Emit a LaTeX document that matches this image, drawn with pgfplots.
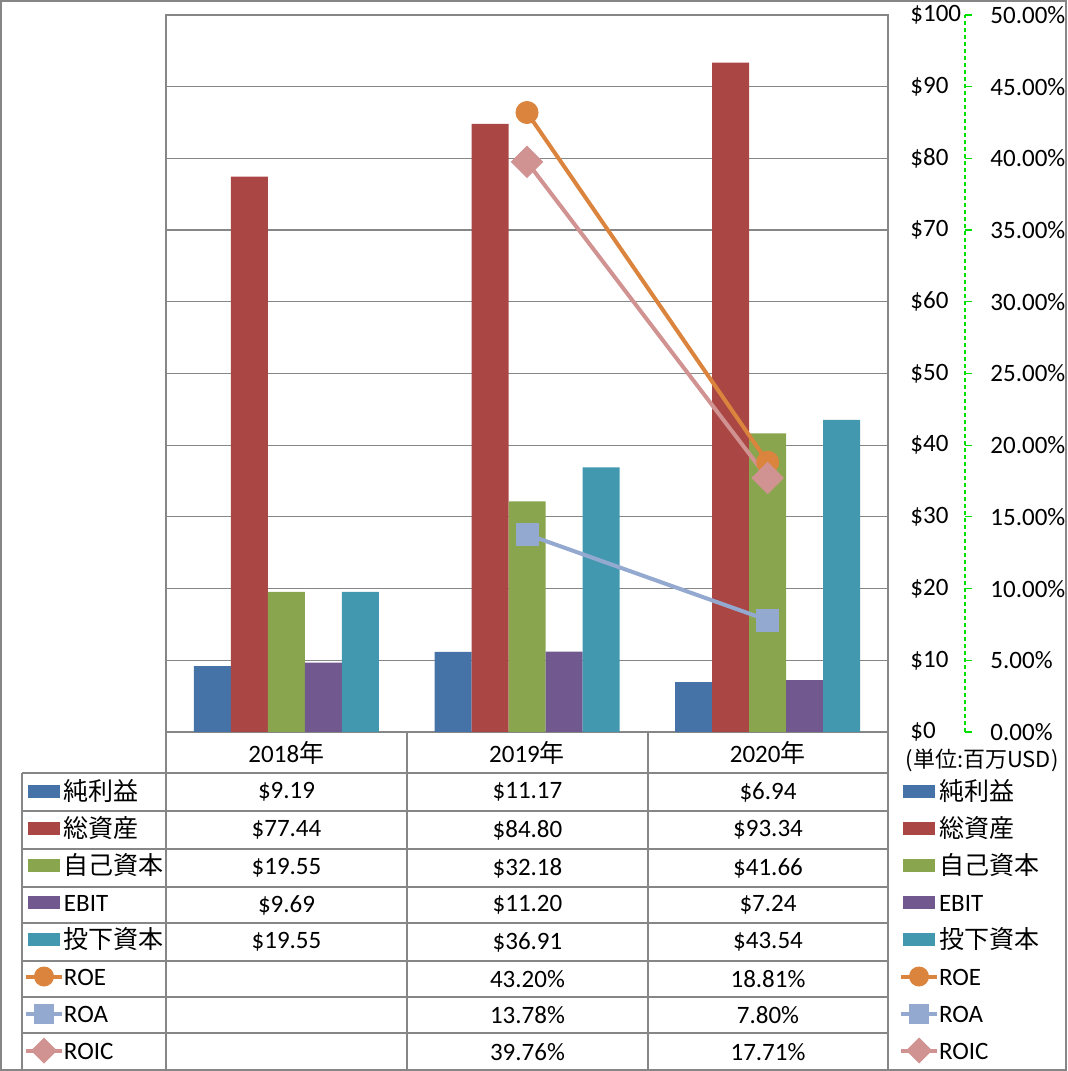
\documentclass[border=0pt]{standalone}
\usepackage{pgfplots}
\pgfplotsset{compat=1.18}
\usepackage{fontspec}
\setmainfont{Carlito}
\newfontfamily\cjk{Noto Sans CJK JP}
\newfontfamily\cjkp[CharacterWidth=Proportional]{Noto Sans CJK JP}
\definecolor{c1}{HTML}{4572A7}
\definecolor{c2}{HTML}{AA4643}
\definecolor{c3}{HTML}{89A54E}
\definecolor{c4}{HTML}{71588F}
\definecolor{c5}{HTML}{4198AF}
\definecolor{roe}{HTML}{DB843D}
\definecolor{roa}{HTML}{93A9CF}
\definecolor{roic}{HTML}{D19392}
\definecolor{gridg}{HTML}{868686}
\definecolor{lgreen}{HTML}{00E000}
\newcommand\f{\fontsize{12.5}{15}\selectfont}
\pgfplotsset{
  barkey/.style={legend image code/.code={\fill[draw=none, fill=#1] (1pt,-3.25pt) rectangle (17pt,3.25pt);}},
  linekey/.style 2 args={legend image code/.code={\draw[#1, line width=2pt] (0pt,0pt) -- (18pt,0pt);
      \path[draw=none, fill=#1] (9pt,0pt) #2;}},
  legaxis/.style={hide axis, scale only axis, width=1pt, height=1pt, anchor=center,
    xmin=0,xmax=1,ymin=0,ymax=1,
    legend cell align=left,
    legend style={at={(0.5,0.5)}, anchor=north west, draw=none, fill=none, inner sep=0pt,
      outer sep=0pt, row sep=0pt, font=\f,
      nodes={inner sep=0pt, minimum height=18.5pt, text height=9.6pt, text depth=1pt},
      /tikz/column 2/.style={column sep=1.5pt}}},
}
\begin{document}
\begin{tikzpicture}[x=0.5pt,y=0.5pt]
\draw[gridg, line width=0.75pt] (1,1) rectangle (1066,1070);
% table grid
\begin{scope}[gridg, line width=0.6pt]
\foreach \y in {773,811,849,887,923,961,997,1033} \draw (22,1071-\y) -- (888,1071-\y);
\foreach \x in {166,407,648,888} \draw (\x,339) -- (\x,0);
\draw (22,298) -- (22,0);
\end{scope}
% table values
\foreach \r/\a/\b/\c in {792/\$9.19/\$11.17/\$6.94, 830/\$77.44/\$84.80/\$93.34,
  868/\$19.55/\$32.18/\$41.66, 905/\$9.69/\$11.20/\$7.24, 942/\$19.55/\$36.91/\$43.54,
  979//43.20\%/18.81\%, 1015//13.78\%/7.80\%, 1052//39.76\%/17.71\%}{
  \node[font=\f] at (286.5,1071-\r) {\a};
  \node[font=\f] at (527.5,1071-\r) {\b};
  \node[font=\f] at (768,1071-\r) {\c};
}
% bars
\begin{axis}[at={(83pt,169.5pt)}, anchor=south west, scale only axis, width=361pt, height=358.5pt,
  xmin=-0.5, xmax=2.5, ymin=0, ymax=100,
  ybar=0pt, bar width=18.5pt,
  xtick={0,1,2}, xticklabels={{2018\cjk 年},{2019\cjk 年},{2020\cjk 年}},
  xticklabel style={anchor=center, yshift=-10.25pt, font=\f},
  ytick={0,10,...,100}, yticklabel pos=right,
  yticklabel={\$\pgfmathprintnumber[assume math mode=true]{\tick}},
  yticklabel style={anchor=west, inner sep=0pt, font=\f, xshift=11pt},
  major tick length=0pt, ymajorgrids, grid style={gridg, line width=0.6pt},
  axis line style={gridg, line width=0.6pt}]
\addplot[fill=c1, draw=none] coordinates {(0,9.19) (1,11.17) (2,6.94)};
\addplot[fill=c2, draw=none] coordinates {(0,77.44) (1,84.80) (2,93.34)};
\addplot[fill=c3, draw=none] coordinates {(0,19.55) (1,32.18) (2,41.66)};
\addplot[fill=c4, draw=none] coordinates {(0,9.69) (1,11.20) (2,7.24)};
\addplot[fill=c5, draw=none] coordinates {(0,19.55) (1,36.91) (2,43.54)};
\end{axis}
% lines (percent)
\begin{axis}[at={(83pt,169.5pt)}, anchor=south west, scale only axis, width=361pt, height=358.5pt,
  xmin=-0.5, xmax=2.5, ymin=0, ymax=50, hide axis, clip=false]
\addplot[roe, line width=2pt, mark=*, mark size=5.5pt, mark options={line width=0.5pt}] coordinates {(1,43.20) (2,18.81)};
\addplot[roa, line width=2pt, mark=square*, mark size=5.5pt, mark options={line width=0.5pt}] coordinates {(1,13.78) (2,7.80)};
\addplot[roic, line width=2pt, mark=square*, mark size=5.5pt, mark options={rotate=45, line width=0.5pt}] coordinates {(1,39.76) (2,17.71)};
\end{axis}
% secondary scale
\begin{axis}[at={(482.5pt,169.5pt)}, anchor=south east, scale only axis, width=0.1pt, height=358.5pt,
  xmin=0, xmax=1, ymin=0, ymax=50,
  axis x line=none, axis y line*=right, axis line style={lgreen, dash pattern=on 2pt off 1.5pt, line width=0.6pt, -},
  ytick={0,5,...,50}, tick align=outside, major tick length=3.5pt,
  ytick style={lgreen, line width=0.6pt},
  yticklabel={\pgfmathprintnumber[fixed, fixed zerofill, precision=2, assume math mode=true]{\tick}\%},
  yticklabel style={anchor=west, inner sep=0pt, font=\f, xshift=9pt}]
\end{axis}
\node[font=\fontsize{11}{13}\selectfont\cjkp] at (982,1071-760) {（単位：百万USD）};
% legends
\foreach \lx in {12pt,449.5pt}{
\begin{axis}[legaxis, at={(\lx,149pt)}]
\addlegendimage{barkey=c1}\addlegendentry{\cjk 純利益}
\addlegendimage{barkey=c2}\addlegendentry{\cjk 総資産}
\addlegendimage{barkey=c3}\addlegendentry{\cjk 自己資本}
\addlegendimage{barkey=c4}\addlegendentry{EBIT}
\addlegendimage{barkey=c5}\addlegendentry{\cjk 投下資本}
\addlegendimage{linekey={roe}{circle (5pt)}}\addlegendentry{ROE}
\addlegendimage{linekey={roa}{+(-5pt,-5pt) rectangle +(5pt,5pt)}}\addlegendentry{ROA}
\addlegendimage{linekey={roic}{+(-6.5pt,0) -- +(0,6.5pt) -- +(6.5pt,0) -- +(0,-6.5pt) -- cycle}}\addlegendentry{ROIC}
\end{axis}
}
\pgfresetboundingbox
\useasboundingbox (0,0) rectangle (1067,1071);
\end{tikzpicture}
\end{document}
